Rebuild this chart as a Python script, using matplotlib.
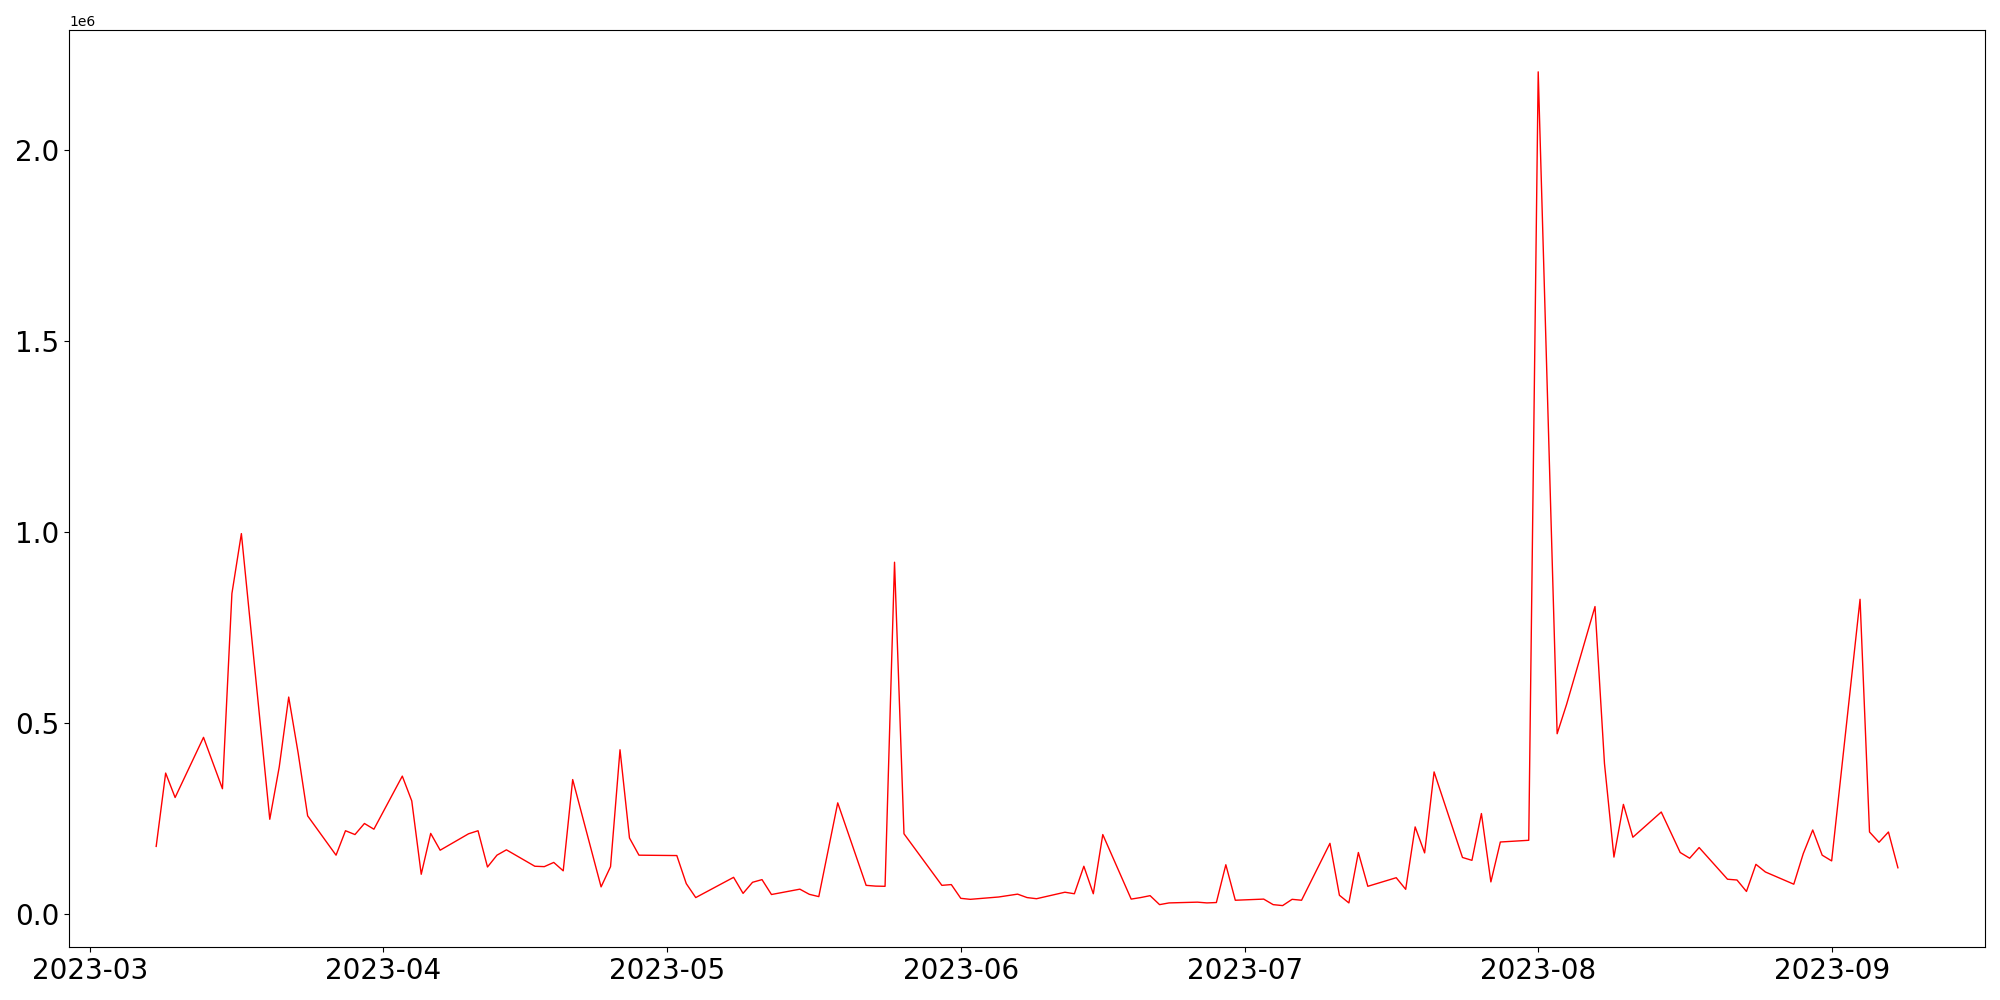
import pandas as pd
import matplotlib
matplotlib.use("Agg")
import matplotlib.pyplot as plt

# daily values (units: 1e6 on the axis)
dates = [
    "2023-03-08", "2023-03-09", "2023-03-10", "2023-03-13", "2023-03-15",
    "2023-03-16", "2023-03-17", "2023-03-20", "2023-03-21", "2023-03-22",
    "2023-03-23", "2023-03-24", "2023-03-27", "2023-03-28", "2023-03-29",
    "2023-03-30", "2023-03-31", "2023-04-03", "2023-04-04", "2023-04-05",
    "2023-04-06", "2023-04-07", "2023-04-10", "2023-04-11", "2023-04-12",
    "2023-04-13", "2023-04-14", "2023-04-17", "2023-04-18", "2023-04-19",
    "2023-04-20", "2023-04-21", "2023-04-24", "2023-04-25", "2023-04-26",
    "2023-04-27", "2023-04-28", "2023-05-02", "2023-05-03", "2023-05-04",
    "2023-05-08", "2023-05-09", "2023-05-10", "2023-05-11", "2023-05-12",
    "2023-05-15", "2023-05-16", "2023-05-17", "2023-05-19", "2023-05-22",
    "2023-05-23", "2023-05-24", "2023-05-25", "2023-05-26", "2023-05-30",
    "2023-05-31", "2023-06-01", "2023-06-02", "2023-06-05", "2023-06-07",
    "2023-06-08", "2023-06-09", "2023-06-12", "2023-06-13", "2023-06-14",
    "2023-06-15", "2023-06-16", "2023-06-19", "2023-06-20", "2023-06-21",
    "2023-06-22", "2023-06-23", "2023-06-26", "2023-06-27", "2023-06-28",
    "2023-06-29", "2023-06-30", "2023-07-03", "2023-07-04", "2023-07-05",
    "2023-07-06", "2023-07-07", "2023-07-10", "2023-07-11", "2023-07-12",
    "2023-07-13", "2023-07-14", "2023-07-17", "2023-07-18", "2023-07-19",
    "2023-07-20", "2023-07-21", "2023-07-24", "2023-07-25", "2023-07-26",
    "2023-07-27", "2023-07-28", "2023-07-31", "2023-08-01", "2023-08-03",
    "2023-08-04", "2023-08-07", "2023-08-08", "2023-08-09", "2023-08-10",
    "2023-08-11", "2023-08-14", "2023-08-16", "2023-08-17", "2023-08-18",
    "2023-08-21", "2023-08-22", "2023-08-23", "2023-08-24", "2023-08-25",
    "2023-08-28", "2023-08-29", "2023-08-30", "2023-08-31", "2023-09-01",
    "2023-09-04", "2023-09-05", "2023-09-06", "2023-09-07", "2023-09-08",
]
values = [
    0.176, 0.368, 0.304, 0.4615, 0.327,
    0.838, 0.995, 0.247, 0.384, 0.567,
    0.420, 0.256, 0.153, 0.217, 0.207,
    0.236, 0.221, 0.360, 0.295, 0.103,
    0.210, 0.166, 0.209, 0.217, 0.122,
    0.153, 0.167, 0.124, 0.123, 0.134,
    0.112, 0.351, 0.070, 0.123, 0.429,
    0.198, 0.153, 0.152, 0.0785, 0.042,
    0.095, 0.053, 0.082, 0.089, 0.050,
    0.064, 0.0505, 0.0445, 0.290, 0.074,
    0.072, 0.0715, 0.920, 0.209, 0.074,
    0.076, 0.040, 0.0374, 0.0435, 0.051,
    0.042, 0.039, 0.056, 0.052, 0.124,
    0.052, 0.207, 0.038, 0.042, 0.047,
    0.0235, 0.028, 0.030, 0.028, 0.029,
    0.128, 0.035, 0.038, 0.0235, 0.021,
    0.0374, 0.035, 0.184, 0.048, 0.028,
    0.160, 0.0715, 0.094, 0.0636, 0.227,
    0.159, 0.371, 0.147, 0.1395, 0.262,
    0.083, 0.1875, 0.192, 2.204, 0.471,
    0.548, 0.804, 0.393, 0.148, 0.286,
    0.200, 0.266, 0.160, 0.145, 0.173,
    0.090, 0.088, 0.058, 0.129, 0.109,
    0.077, 0.157, 0.219, 0.153, 0.138,
    0.823, 0.2137, 0.1867, 0.2137, 0.120,
]


def main() -> None:
    x = pd.to_datetime(dates)
    y = [v * 1e6 for v in values]

    fig, ax = plt.subplots(figsize=(20, 10), dpi=100)
    ax.plot(x, y, color="red", linewidth=1.0)
    ax.tick_params(labelsize=20)

    fig.tight_layout()
    fig.savefig("out.png", dpi=100)


if __name__ == "__main__":
    main()
